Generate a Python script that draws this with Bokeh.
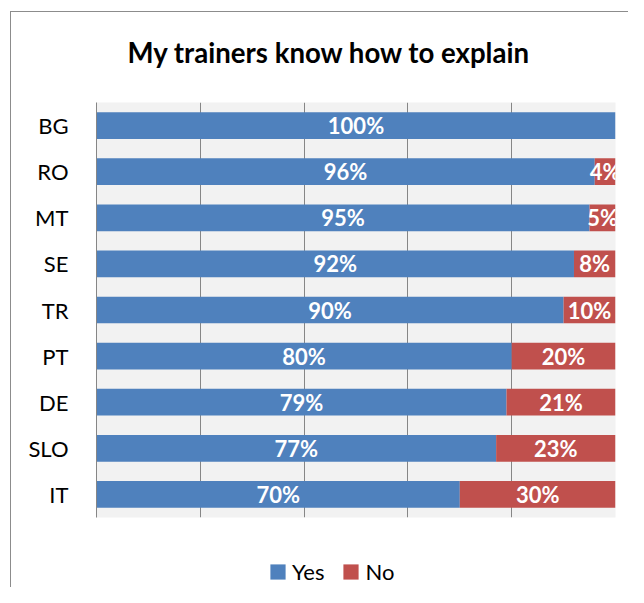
from bokeh.plotting import figure
from bokeh.layouts import column
from bokeh.models import (FactorRange, Range1d, FixedTicker, Legend, LegendItem,
                          ColumnDataSource)
from bokeh.core.properties import value
from bokeh.embed import file_html
from bokeh.resources import INLINE

countries = ["BG", "RO", "MT", "SE", "TR", "PT", "DE", "SLO", "IT"]
yes_vals = [100, 96, 95, 92, 90, 80, 79, 77, 70]
no_vals = [0, 4, 5, 8, 10, 20, 21, 23, 30]
series = ["Yes", "No"]
title_text = "My trainers know how to explain"
x_ticks = [0, 20, 40, 60, 80, 100]

BLUE = "#4F81BD"
RED = "#C0504D"
FONT = "Lato"
W = 628

frame_css = ("linear-gradient(#8c8c8c,#8c8c8c) 10px 11px / 1px 100% no-repeat, "
             "linear-gradient(#8c8c8c,#8c8c8c) 10px 11px / 100% 1px no-repeat, #ffffff")

p = figure(width=W, height=527, output_backend="svg", toolbar_location=None,
           y_range=FactorRange(factors=countries[::-1], range_padding=0),
           x_range=Range1d(0, 100), x_axis_location=None,
           min_border_left=96, min_border_right=13, min_border_top=100, min_border_bottom=10)

p.title.text = title_text
p.title.align = "left"
p.title.offset = 31
p.title.standoff = 67
p.title.text_font = FONT
p.title.text_font_style = "bold"
p.title.text_font_size = "27.6px"
p.title.text_color = "#000000"

p.background_fill_color = "#F2F2F2"
p.border_fill_color = None
p.outline_line_color = None

p.xgrid.ticker = FixedTicker(ticks=x_ticks)
p.xgrid.grid_line_color = "#868686"
p.xgrid.grid_line_width = 1
p.ygrid.grid_line_color = None

yax = p.yaxis[0]
yax.axis_line_color = "#868686"
yax.major_tick_line_color = None
yax.minor_tick_line_color = None
yax.major_label_text_font = FONT
yax.major_label_text_font_size = "22px"
yax.major_label_text_color = "#000000"
yax.major_label_standoff = 22

src = ColumnDataSource(dict(
    country=countries,
    yes=yes_vals,
    no=no_vals,
    no_left=yes_vals,
    no_right=[y + n for y, n in zip(yes_vals, no_vals)],
))
p.hbar(y="country", left=0, right="yes", height=0.58, source=src,
       fill_color=BLUE, line_color=None)
p.hbar(y="country", left="no_left", right="no_right", height=0.58, source=src,
       fill_color=RED, line_color=None)

yes_src = ColumnDataSource(dict(
    country=countries,
    x=[v / 2 for v in yes_vals],
    label=[f"{v}%" for v in yes_vals],
))
no_c = [c for c, n in zip(countries, no_vals) if n > 0]
no_x = [y + n / 2 for y, n in zip(yes_vals, no_vals) if n > 0]
no_l = [f"{n}%" for n in no_vals if n > 0]
no_src = ColumnDataSource(dict(country=no_c, x=no_x, label=no_l))

for s in (yes_src, no_src):
    p.text(x="x", y="country", text="label", source=s, text_align="center",
           text_baseline="middle", text_color="#FFFFFF", text_font=value(FONT),
           text_font_style="bold", text_font_size="22px")

# legend strip below the chart (zero-area proxy glyphs only carry the colours)
lg = figure(width=W, height=60, output_backend="svg", toolbar_location=None,
            x_axis_location=None, y_axis_location=None, min_border=0,
            x_range=Range1d(0, 1), y_range=Range1d(0, 1))
lg.xgrid.visible = False
lg.ygrid.visible = False
lg.outline_line_color = None
lg.background_fill_color = None
lg.border_fill_color = None
g_yes = lg.quad(left=[0], right=[0], top=[0], bottom=[0], fill_color=BLUE, line_color=None)
g_no = lg.quad(left=[0], right=[0], top=[0], bottom=[0], fill_color=RED, line_color=None)

legend = Legend(items=[LegendItem(label=series[0], renderers=[g_yes]),
                       LegendItem(label=series[1], renderers=[g_no])],
                orientation="horizontal", location=(172, 2),
                border_line_color=None, background_fill_alpha=0,
                label_text_font=FONT, label_text_font_size="22px",
                label_text_color="#000000",
                glyph_width=19, glyph_height=19, label_standoff=5, spacing=17,
                padding=0, margin=0)
lg.add_layout(legend, "center")

layout = column(p, lg, spacing=0, styles={"background": frame_css})

open("out.html", "w").write(file_html(layout, INLINE))
